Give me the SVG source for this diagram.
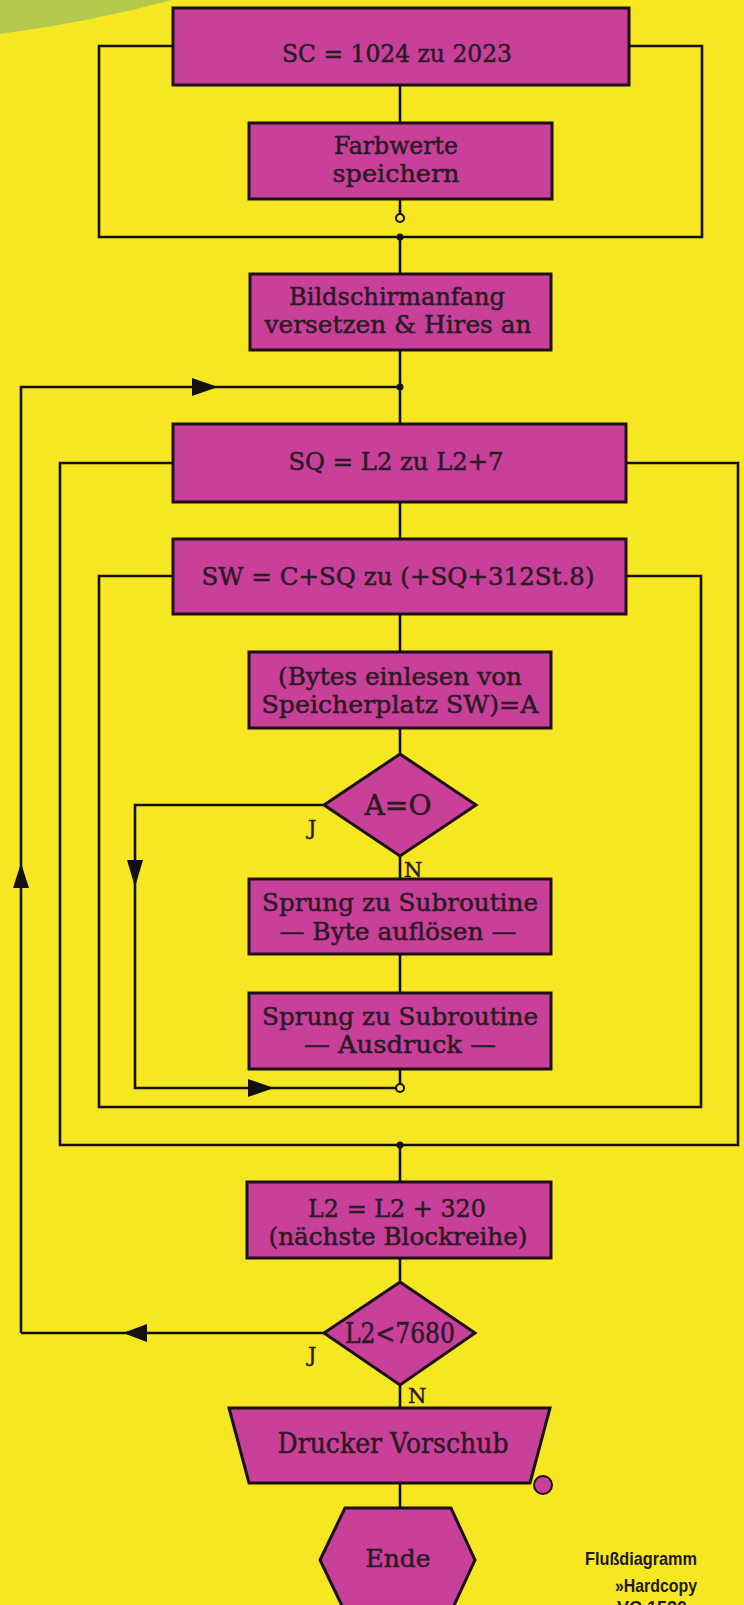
<svg xmlns="http://www.w3.org/2000/svg" width="744" height="1605" viewBox="0 0 744 1605">
<style>
.box{fill:#c8409a;stroke:#1a1216;stroke-width:3;stroke-linejoin:miter}
.ln{fill:none;stroke:#141012;stroke-width:2.6}
.ah{fill:#141012;stroke:none}
.dot{fill:#141012}
.oc{fill:#f7e723;stroke:#141012;stroke-width:2}
.t{font-family:"DejaVu Serif","Liberation Serif",serif;font-size:25px;fill:#2a1a22;stroke:#2a1a22;stroke-width:0.5;text-anchor:middle}
.lb{font-family:"DejaVu Serif","Liberation Serif",serif;font-size:21px;fill:#2a1a22;stroke:#2a1a22;stroke-width:0.5}
.cap{font-family:"Liberation Sans",Arial,sans-serif;font-weight:bold;font-size:19px;fill:#1e1a14;text-anchor:end}
</style>
<rect x="0" y="0" width="744" height="1605" fill="#f7e723"/>
<path d="M0,0 H172 Q90,22 0,34 Z" fill="#b3c94c"/>

<g id="connectors">
  <path class="ln" d="M173,46 H99 V237 H702 V46 H629"/>
  <path class="ln" d="M400,85 V123"/>
  <path class="ln" d="M400,199 V214"/>
  <path class="ln" d="M400,237 V274"/>
  <path class="ln" d="M400,350 V424"/>
  <path class="ln" d="M21,1333 V387 H400"/>
  <polygon class="ah" points="192,378 218,387 192,396"/>
  <polygon class="ah" points="13,888 21,863 29,888"/>
  <path class="ln" d="M173,463 H60 V1145 H738 V463 H626"/>
  <path class="ln" d="M400,502 V539"/>
  <path class="ln" d="M173,576 H99 V1107 H701 V576 H626"/>
  <path class="ln" d="M400,614 V652"/>
  <path class="ln" d="M400,728 V754"/>
  <path class="ln" d="M400,856 V879"/>
  <path class="ln" d="M324,805 H135 V1088 H396"/>
  <polygon class="ah" points="127,860 143,860 135,887"/>
  <polygon class="ah" points="248,1079 274,1088 248,1097"/>
  <path class="ln" d="M400,954 V993"/>
  <path class="ln" d="M400,1069 V1084"/>
  <path class="ln" d="M400,1145 V1182"/>
  <path class="ln" d="M400,1258 V1282"/>
  <path class="ln" d="M324,1333 H21"/>
  <polygon class="ah" points="147,1324 123,1333 147,1342"/>
  <path class="ln" d="M400,1385 V1408"/>
  <path class="ln" d="M400,1483 V1508"/>
  <circle class="oc" cx="400" cy="218" r="4"/>
  <circle class="dot" cx="400" cy="237" r="3.5"/>
  <circle class="dot" cx="400" cy="387" r="3.5"/>
  <circle class="oc" cx="400" cy="1088" r="4"/>
  <circle class="dot" cx="400" cy="1145" r="3.5"/>
</g>

<g id="n1">
  <rect class="box" x="173" y="8" width="456" height="77"/>
  <text class="t" x="397" y="62" textLength="230" lengthAdjust="spacingAndGlyphs">SC = 1024 zu 2023</text>
</g>
<g id="n2">
  <rect class="box" x="249" y="123" width="303" height="76"/>
  <text class="t" x="396" y="154" textLength="124" lengthAdjust="spacingAndGlyphs">Farbwerte</text>
  <text class="t" x="396" y="182" textLength="127" lengthAdjust="spacingAndGlyphs">speichern</text>
</g>
<g id="n3">
  <rect class="box" x="250" y="274" width="301" height="76"/>
  <text class="t" x="397" y="305" textLength="216" lengthAdjust="spacingAndGlyphs">Bildschirmanfang</text>
  <text class="t" x="398" y="333" textLength="267" lengthAdjust="spacingAndGlyphs">versetzen &amp; Hires an</text>
</g>
<g id="n4">
  <rect class="box" x="173" y="424" width="453" height="78"/>
  <text class="t" x="396" y="470" textLength="215" lengthAdjust="spacingAndGlyphs">SQ = L2 zu L2+7</text>
</g>
<g id="n5">
  <rect class="box" x="173" y="539" width="453" height="75"/>
  <text class="t" x="398" y="585" textLength="393" lengthAdjust="spacingAndGlyphs">SW = C+SQ zu (+SQ+312St.8)</text>
</g>
<g id="n6">
  <rect class="box" x="249" y="652" width="302" height="76"/>
  <text class="t" x="400" y="685" textLength="244" lengthAdjust="spacingAndGlyphs">(Bytes einlesen von</text>
  <text class="t" x="400" y="713" textLength="277" lengthAdjust="spacingAndGlyphs">Speicherplatz SW)=A</text>
</g>
<g id="n7">
  <polygon class="box" points="400,754 476,805 400,856 324,805"/>
  <text class="t" x="398" y="815" style="font-size:27px" textLength="67" lengthAdjust="spacingAndGlyphs">A=O</text>
  <text class="lb" x="308" y="835">J</text>
  <text class="lb" x="404" y="877">N</text>
</g>
<g id="n8">
  <rect class="box" x="249" y="879" width="302" height="75"/>
  <text class="t" x="400" y="911" textLength="276" lengthAdjust="spacingAndGlyphs">Sprung zu Subroutine</text>
  <text class="t" x="398" y="940" textLength="237" lengthAdjust="spacingAndGlyphs">— Byte auflösen —</text>
</g>
<g id="n9">
  <rect class="box" x="249" y="993" width="302" height="76"/>
  <text class="t" x="400" y="1025" textLength="276" lengthAdjust="spacingAndGlyphs">Sprung zu Subroutine</text>
  <text class="t" x="400" y="1053" textLength="192" lengthAdjust="spacingAndGlyphs">— Ausdruck —</text>
</g>
<g id="n10">
  <rect class="box" x="247" y="1182" width="304" height="76"/>
  <text class="t" x="397" y="1217" textLength="178" lengthAdjust="spacingAndGlyphs">L2 = L2 + 320</text>
  <text class="t" x="398" y="1245" textLength="259" lengthAdjust="spacingAndGlyphs">(nächste Blockreihe)</text>
</g>
<g id="n11">
  <polygon class="box" points="400,1282 475,1333 400,1385 324,1333"/>
  <text class="t" x="400" y="1343" style="font-size:27px" textLength="110" lengthAdjust="spacingAndGlyphs">L2&lt;7680</text>
  <text class="lb" x="308" y="1362">J</text>
  <text class="lb" x="408" y="1403">N</text>
</g>
<g id="n12">
  <polygon class="box" points="229,1408 550,1408 530,1483 249,1483"/>
  <text class="t" x="393" y="1453" style="font-size:28px" textLength="231" lengthAdjust="spacingAndGlyphs">Drucker Vorschub</text>
  <circle cx="543" cy="1485" r="9" fill="#c8409a" stroke="#1a1216" stroke-width="2"/>
</g>
<g id="n13">
  <polygon class="box" points="345,1508 451,1508 475,1560 451,1612 345,1612 320,1560"/>
  <text class="t" x="398" y="1567" textLength="65" lengthAdjust="spacingAndGlyphs">Ende</text>
</g>
<g id="caption">
  <text class="cap" x="697" y="1565" textLength="112" lengthAdjust="spacingAndGlyphs">Flußdiagramm</text>
  <text class="cap" x="697" y="1592" textLength="82" lengthAdjust="spacingAndGlyphs">»Hardcopy</text>
  <text class="cap" x="697" y="1614" textLength="80" lengthAdjust="spacingAndGlyphs">VC 1520«</text>
</g>
</svg>
